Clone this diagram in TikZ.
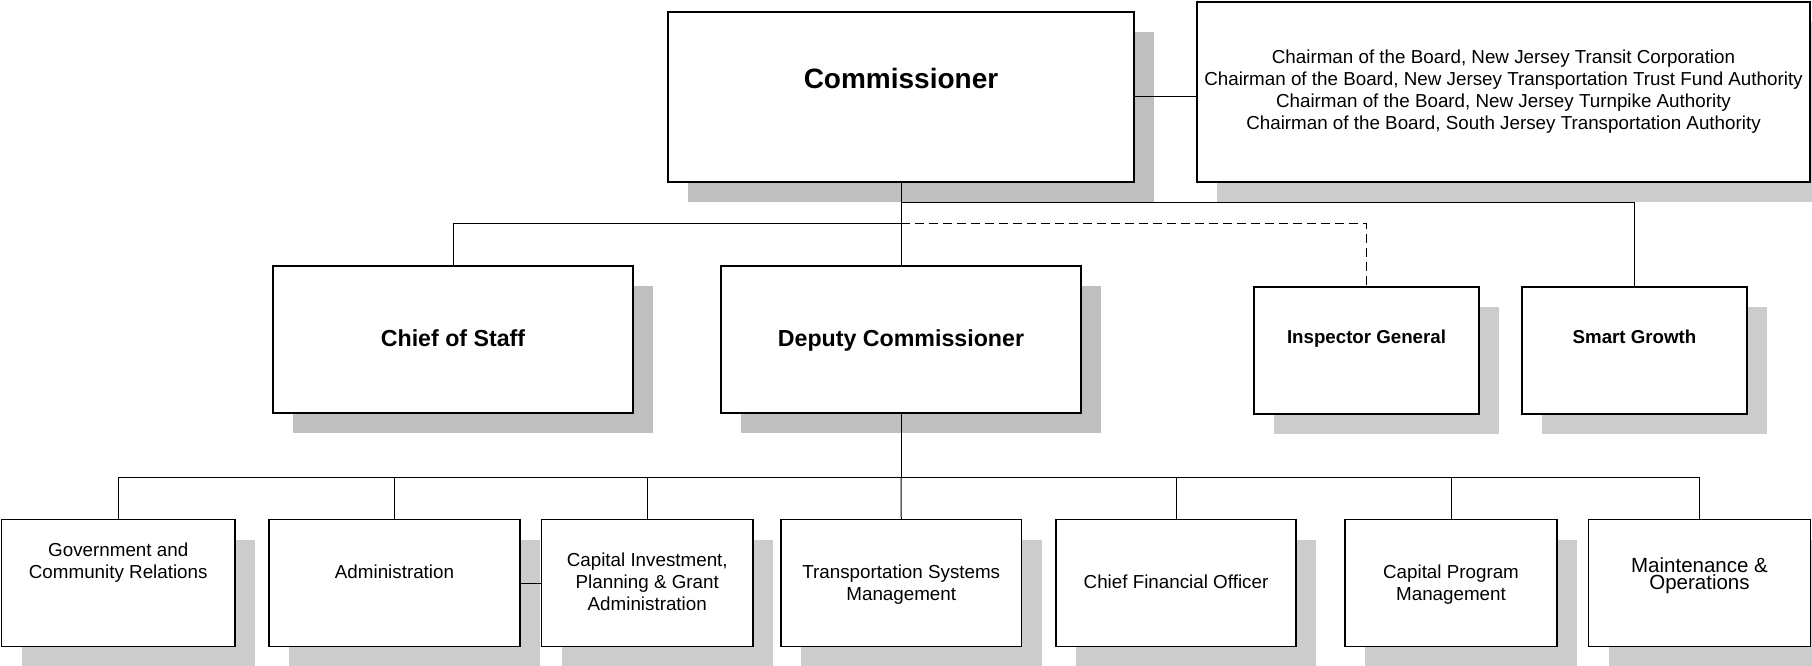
\documentclass[tikz,border=0pt]{standalone}
\usepackage{fontspec}
\setmainfont{Liberation Sans}
\usetikzlibrary{shadows}
\definecolor{shadeA}{HTML}{BFBFBF}
\definecolor{shadeB}{HTML}{CCCCCC}
\newcommand{\mytightlines}{\lineskiplimit=-50pt\relax}
\begin{document}
\begin{tikzpicture}[x=1pt,y=-1pt,
  box/.style={draw=black, line width=1.5pt, fill=white, rectangle, inner sep=0pt},
  shA/.style={general shadow={fill=shadeA, shadow xshift=20pt, shadow yshift=-20pt}},
  shB/.style={general shadow={fill=shadeB, shadow xshift=20pt, shadow yshift=-20pt}},
  topbox/.style={box, minimum height=147pt},
  midbox/.style={box, minimum width=225pt, minimum height=127pt},
  botbox/.style={box, minimum height=127pt},
  txt/.style={inner sep=0pt, align=center, font=\fontsize{18.8}{22}\selectfont},
  bigtxt/.style={inner sep=0pt, font=\bfseries\fontsize{23.2}{26}\selectfont},
  midtxt/.style={inner sep=0pt, font=\bfseries\fontsize{18.7}{22}\selectfont},
  conn/.style={draw=black, line width=1pt},
  dashconn/.style={conn, dash pattern=on 9pt off 5pt}
]
\useasboundingbox (0,0) rectangle (1812,666);

% ---- boxes ----
\node[box, shA, minimum width=466pt, minimum height=170pt] (comm) at (901,97) {};
\node[box, shB, minimum width=613pt, minimum height=180pt] (chair) at (1503.5,92) {};

\node[topbox, shA, minimum width=360pt] (cos) at (453,339.5) {};
\node[topbox, shA, minimum width=360pt] (dep) at (901,339.5) {};
\node[midbox, shB] (ig) at (1366.5,350.5) {};
\node[midbox, shB] (sg) at (1634.5,350.5) {};

\node[botbox, shB, minimum width=233.5pt] (gov) at (118.25,583) {};
\node[botbox, shB, minimum width=251pt] (adm) at (394.5,583) {};
\node[botbox, shB, minimum width=211.5pt] (cig) at (647.25,583) {};
\node[botbox, shB, minimum width=240.5pt] (tsm) at (901.25,583) {};
\node[botbox, shB, minimum width=240pt] (cfo) at (1176,583) {};
\node[botbox, shB, minimum width=212pt] (cpm) at (1451,583) {};
\node[botbox, shB, minimum width=222pt] (mo) at (1699.5,583) {};

% ---- texts ----
\node[inner sep=0pt, anchor=base, font=\bfseries\fontsize{28}{32}\selectfont] (commT) at (901,88.5) {Commissioner};
\node[txt, anchor=north] (chairT) at (1503.5,49.6) {Chairman of the Board, New Jersey Transit Corporation\\Chairman of the Board, New Jersey Transportation Trust Fund Authority\\Chairman of the Board, New Jersey Turnpike Authority\\Chairman of the Board, South Jersey Transportation Authority};
\node[bigtxt, anchor=base] (cosT) at (453,346.7) {Chief of Staff};
\node[bigtxt, anchor=base] (depT) at (901,346.7) {Deputy Commissioner};
\node[midtxt, anchor=base] (igT) at (1366.5,343.3) {Inspector General};
\node[midtxt, anchor=base] (sgT) at (1634.5,343.3) {Smart Growth};

\node[txt, anchor=north] (govT) at (118.25,543) {Government and\\Community Relations};
\node[txt, anchor=base] (admT) at (394.5,578.3) {Administration};
\node[txt, anchor=north] (cigT) at (647.25,553) {Capital Investment,\\Planning \& Grant\\Administration};
\node[txt, anchor=north] (tsmT) at (901.25,564.6) {Transportation Systems\\Management};
\node[txt, anchor=base] (cfoT) at (1176,588.3) {Chief Financial Officer};
\node[txt, anchor=north] (cpmT) at (1451,564.6) {Capital Program\\Management};
\node[inner sep=0pt, align=center, anchor=north, font={\fontsize{20.5}{17.5}\selectfont\mytightlines}] (moT) at (1699.5,557) {Maintenance \&\\Operations};

% ---- connectors ----
\coordinate (jSG) at (901,202);
\coordinate (jCS) at (901,223);
\coordinate (bus) at (901,477);

\draw[conn] (comm.east) -- (comm.east -| chair.west);
\draw[conn] (jSG) -| (sg.north);
\draw[conn] (jCS) -| (cos.north);
\draw[dashconn] (jCS) -| (ig.north);
\draw[conn] (comm.south) -- (dep.north);
\draw[conn] (dep.south) -- (bus);
\draw[conn] (bus) -| (gov.north);
\draw[conn] (bus) -| (adm.north);
\draw[conn] (bus) -| (cig.north);
\draw[conn] (bus) -- (tsm.north);
\draw[conn] (bus) -| (cfo.north);
\draw[conn] (bus) -| (cpm.north);
\draw[conn] (bus) -| (mo.north);
\draw[conn] (adm.east) -- (cig.west);
\end{tikzpicture}
\end{document}
